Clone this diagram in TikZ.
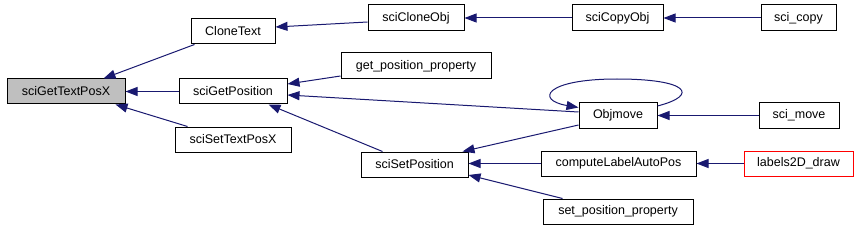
\documentclass[tikz,border=0pt]{standalone}
\usepackage{fontspec}
\setmainfont{Liberation Sans}
\usetikzlibrary{arrows.meta}
\definecolor{edgeblue}{HTML}{191970}
\definecolor{hlgray}{HTML}{BFBFBF}
\begin{document}
\begin{tikzpicture}[x=1pt,y=-1pt,
  fbox/.style={draw=black,line width=1pt,fill=white,inner sep=0pt,minimum height=25pt,
    font=\fontsize{12.5}{15}\selectfont},
  calledge/.style={draw=edgeblue,line width=1pt,-{Triangle[length=12pt,width=9pt]}}]
\useasboundingbox (0,0) rectangle (858,227);
\node[fbox,fill=hlgray,minimum width=118pt] (gtp) at (66,91.5) {sciGetTextPosX};
\node[fbox,minimum width=84pt] (clone) at (233,31.5) {CloneText};
\node[fbox,minimum width=108pt] (gpos) at (233,91.5) {sciGetPosition};
\node[fbox,minimum width=116pt] (stp) at (233,139.5) {sciSetTextPosX};
\node[fbox,minimum width=96pt,minimum height=26pt] (cobj) at (416,18) {sciCloneObj};
\node[fbox,minimum width=150pt,minimum height=26pt] (gpp) at (416,66) {get\_position\_property};
\node[fbox,minimum width=107pt] (spos) at (414.5,164.5) {sciSetPosition};
\node[fbox,minimum width=91pt,minimum height=26pt] (copyobj) at (617.5,18) {sciCopyObj};
\node[fbox,minimum width=78pt] (objm) at (618,115.5) {Objmove};
\node[fbox,minimum width=155pt] (clap) at (618.5,163.5) {computeLabelAutoPos};
\node[fbox,minimum width=150pt] (spp) at (618,211.5) {set\_position\_property};
\node[fbox,minimum width=75pt,minimum height=26pt] (scopy) at (798.5,18) {sci\_copy};
\node[fbox,minimum width=80pt] (smove) at (799,115.5) {sci\_move};
\node[fbox,draw=red,minimum width=109pt] (l2d) at (798.5,163.5) {labels2D\_draw};
% edges
\draw[calledge] ([xshift=4pt]clone.south west) -- ([xshift=-22pt]gtp.north east);
\draw[calledge] (gpos.west) -- (gtp.east);
\draw[calledge] ([xshift=13pt]stp.north west) -- ([xshift=-10pt]gtp.south east);
\draw[calledge] ([yshift=-4pt]cobj.west) -- ([yshift=4.5pt]clone.east);
\draw[calledge] (copyobj.west) -- (cobj.east);
\draw[calledge] (scopy.west) -- (copyobj.east);
\draw[calledge] ([yshift=-10pt]gpp.west) -- ([yshift=7.5pt]gpos.east);
\draw[calledge] ([yshift=3.5pt]objm.west) -- ([yshift=-3.5pt]gpos.east);
\draw[calledge] ([xshift=22pt]spos.north west) -- ([xshift=-19pt]gpos.south east);
\draw[calledge] ([yshift=-3.5pt]objm.north east) .. controls (700,95) and (688,79) .. (617,79)
  .. controls (545,79) and (535,100) .. ([yshift=-5pt]objm.north west);
\draw[calledge] (smove.west) -- (objm.east);
\draw[calledge] ([yshift=-9.5pt]objm.west) -- ([xshift=-6pt]spos.north east);
\draw[calledge] (clap.west) -- (clap.west -| spos.east);
\draw[calledge] ([xshift=20pt]spp.north west) -- ([yshift=-10.5pt]spos.east);
\draw[calledge] (l2d.west) -- (clap.east);
\end{tikzpicture}
\end{document}
